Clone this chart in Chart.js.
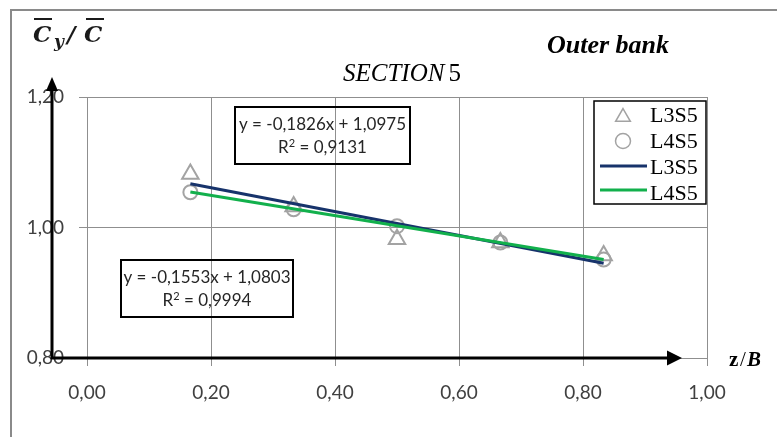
<!DOCTYPE html>
<html>
<head>
<meta charset="utf-8">
<script src="https://cdn.jsdelivr.net/npm/chart.js@4.4.1/dist/chart.umd.min.js"></script>
<style>
html,body{margin:0;padding:0;background:#fff;}
canvas{display:block;}
</style>
</head>
<body>
<canvas id="c" width="777" height="437"></canvas>
<script>
// ---- data ----
const xValues = [0.1667, 0.3333, 0.5, 0.6667, 0.8333];
const l3s5Values = [1.082, 1.032, 0.982, 0.977, 0.957];
const l4s5Values = [1.054, 1.028, 1.002, 0.977, 0.951];
const seriesNames = ['L3S5', 'L4S5'];
const trendSlopes = [-0.1826, -0.1553];
const trendIntercepts = [1.0975, 1.0803];
const trendR2 = ['0,9131', '0,9994'];
const xTickLabels = ['0,00', '0,20', '0,40', '0,60', '0,80', '1,00'];
const yTickLabels = ['0,80', '1,00', '1,20'];

const fmt = v => v.toFixed(4).replace('.', ',');
const eqText = i => 'y = ' + fmt(trendSlopes[i]) + 'x + ' + fmt(trendIntercepts[i]);

function trendPoints(i) {
  const x0 = xValues[0], x1 = xValues[xValues.length - 1];
  return [
    {x: x0, y: trendSlopes[i] * x0 + trendIntercepts[i]},
    {x: x1, y: trendSlopes[i] * x1 + trendIntercepts[i]}
  ];
}
const pts = arr => xValues.map((x, i) => ({x: x, y: arr[i]}));

const MARK = '#a3a3a3';
const NAVY = '#17336b';
const GREEN = '#12b04c';

const decor = {
  id: 'decor',
  afterDraw(chart) {
    const ctx = chart.ctx;
    const ys = chart.scales.y;
    ctx.save();
    // outer frame
    ctx.strokeStyle = '#8a8a8a';
    ctx.lineWidth = 2;
    ctx.strokeRect(11, 10, 800, 500);

    // axis arrows
    const axY = ys.getPixelForValue(0.8);
    const axX = 52;
    ctx.strokeStyle = '#000';
    ctx.fillStyle = '#000';
    ctx.lineWidth = 3;
    ctx.beginPath();
    ctx.moveTo(axX, axY + 1);
    ctx.lineTo(axX, 90);
    ctx.moveTo(axX - 1, axY);
    ctx.lineTo(668, axY);
    ctx.stroke();
    ctx.beginPath();
    ctx.moveTo(axX, 77); ctx.lineTo(axX - 6, 91); ctx.lineTo(axX + 6, 91); ctx.closePath(); ctx.fill();
    ctx.beginPath();
    ctx.moveTo(682, axY); ctx.lineTo(667, axY - 7.5); ctx.lineTo(667, axY + 7.5); ctx.closePath(); ctx.fill();

    // titles
    ctx.fillStyle = '#000';
    ctx.textBaseline = 'alphabetic';
    ctx.textAlign = 'left';
    ctx.font = 'italic 25px "Liberation Serif"';
    ctx.fillText('SECTION', 343, 81);
    const w = ctx.measureText('SECTION').width;
    ctx.font = '25px "Liberation Serif"';
    ctx.fillText('5', 343 + w + 4, 81);
    ctx.font = 'italic bold 26px "Liberation Serif"';
    ctx.fillText('Outer bank', 547, 53);

    // y axis label  C̄y / C̄
    ctx.fillStyle = '#1a1a1a';
    ctx.strokeStyle = '#1a1a1a';
    ctx.font = 'italic bold 23px "DejaVu Serif"';
    ctx.fillText('C', 33, 42);
    ctx.font = 'italic bold 17px "DejaVu Serif"';
    ctx.fillText('y', 54, 47);
    ctx.font = 'italic bold 23px "DejaVu Serif"';
    ctx.fillText('/', 67, 42);
    ctx.fillText('C', 84, 42);
    ctx.lineWidth = 2;
    ctx.beginPath();
    ctx.moveTo(34, 19); ctx.lineTo(52, 19);
    ctx.moveTo(86, 19); ctx.lineTo(104, 19);
    ctx.stroke();

    // x axis label z/B
    ctx.fillStyle = '#000';
    ctx.font = 'bold 21px "Liberation Serif"';
    ctx.fillText('z', 729, 366);
    ctx.font = '21px "Liberation Serif"';
    ctx.fillText('/', 740, 366);
    ctx.font = 'italic bold 21px "Liberation Serif"';
    ctx.fillText('B', 747, 366);

    // trendline equation boxes
    const boxes = [
      {i: 0, x: 235, y: 107, w: 175, h: 57},
      {i: 1, x: 121, y: 260, w: 172, h: 57}
    ];
    ctx.lineWidth = 2;
    ctx.strokeStyle = '#000';
    boxes.forEach(b => {
      ctx.strokeRect(b.x, b.y, b.w, b.h);
      ctx.fillStyle = '#262626';
      ctx.textAlign = 'center';
      ctx.textBaseline = 'middle';
      ctx.font = '17px Lato';
      const cx = b.x + b.w / 2;
      ctx.fillText(eqText(b.i), cx, b.y + 18);
      const r1 = 'R', r3 = ' = ' + trendR2[b.i];
      const wr1 = ctx.measureText(r1).width;
      ctx.font = '11px Lato';
      const wsup = ctx.measureText('2').width;
      ctx.font = '17px Lato';
      const wr3 = ctx.measureText(r3).width;
      const total = wr1 + wsup + wr3;
      const sx = cx - total / 2;
      const ly = b.y + 41;
      ctx.textAlign = 'left';
      ctx.fillText(r1, sx, ly);
      ctx.font = '11px Lato';
      ctx.fillText('2', sx + wr1, ly - 5);
      ctx.font = '17px Lato';
      ctx.fillText(r3, sx + wr1 + wsup, ly);
    });

    // legend
    const lg = {x: 594, y: 101, w: 112, h: 103};
    ctx.fillStyle = '#fff';
    ctx.fillRect(lg.x, lg.y, lg.w, lg.h);
    ctx.strokeStyle = '#000';
    ctx.lineWidth = 1.5;
    ctx.strokeRect(lg.x, lg.y, lg.w, lg.h);
    const ds = chart.data.datasets;
    const rows = [117, 141, 166, 190];
    const baselines = [122, 148, 174, 200];
    ds.forEach((d, k) => {
      const cy = rows[k];
      if (d.showLine) {
        ctx.strokeStyle = d.borderColor;
        ctx.lineWidth = d.borderWidth;
        ctx.beginPath();
        ctx.moveTo(600, cy); ctx.lineTo(647, cy);
        ctx.stroke();
      } else {
        ctx.fillStyle = 'rgba(0,0,0,0)';
        ctx.strokeStyle = d.pointBorderColor;
        ctx.lineWidth = 1.5;
        Chart.helpers.drawPoint(ctx, {
          pointStyle: d.pointStyle, rotation: 0,
          radius: d.pointStyle === 'triangle' ? 8.5 : 7.5, borderWidth: 1.5
        }, 623, cy);
      }
      ctx.fillStyle = '#000';
      ctx.textAlign = 'left';
      ctx.textBaseline = 'alphabetic';
      ctx.font = '22px "Liberation Serif"';
      ctx.fillText(d.label, 650, baselines[k]);
    });
    ctx.restore();
  }
};

new Chart(document.getElementById('c'), {
  type: 'scatter',
  data: {
    datasets: [
      {
        label: seriesNames[0], data: pts(l3s5Values), pointStyle: 'triangle',
        pointRadius: 9.5, pointHoverRadius: 9.5, pointBorderColor: MARK, pointBackgroundColor: 'rgba(0,0,0,0)',
        pointBorderWidth: 2, showLine: false, order: 3
      },
      {
        label: seriesNames[1], data: pts(l4s5Values), pointStyle: 'circle',
        pointRadius: 7, pointHoverRadius: 7, pointBorderColor: MARK, pointBackgroundColor: 'rgba(0,0,0,0)',
        pointBorderWidth: 2, showLine: false, order: 2
      },
      {
        label: seriesNames[0], data: trendPoints(0), showLine: true, pointRadius: 0,
        borderColor: NAVY, borderWidth: 3, order: 1
      },
      {
        label: seriesNames[1], data: trendPoints(1), showLine: true, pointRadius: 0,
        borderColor: GREEN, borderWidth: 3, order: 0
      }
    ]
  },
  options: {
    responsive: false,
    animation: false,
    events: [],
    layout: {padding: {left: 0, top: 97, right: 70, bottom: 0}},
    plugins: {legend: {display: false}, tooltip: {enabled: false}, title: {display: false}},
    scales: {
      x: {
        type: 'linear', min: 0, max: 1,
        afterFit: s => { s.height = 79; },
        border: {display: false},
        grid: {color: '#8f8f8f', lineWidth: 1, tickLength: 8, drawTicks: true},
        ticks: {
          stepSize: 0.2, padding: 15, color: '#404040', maxRotation: 0,
          font: {family: 'Lato', size: 19},
          callback: (v, i) => xTickLabels[i]
        }
      },
      y: {
        type: 'linear', min: 0.8, max: 1.2,
        afterFit: s => { s.width = 87; },
        border: {display: false},
        grid: {color: '#8f8f8f', lineWidth: 1, tickLength: 8, drawTicks: true},
        ticks: {
          stepSize: 0.2, padding: 15, color: '#404040',
          font: {family: 'Lato', size: 19},
          callback: (v, i) => yTickLabels[i]
        }
      }
    }
  },
  plugins: [decor]
});
</script>
</body>
</html>
